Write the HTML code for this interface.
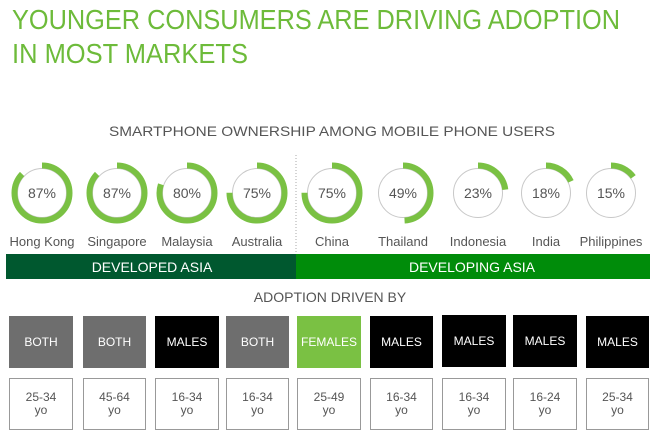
<!DOCTYPE html>
<html><head><meta charset="utf-8"><style>
html,body{margin:0;padding:0;background:#fff}
svg{display:block}
text{font-family:"Liberation Sans",sans-serif}
</style></head><body>
<svg width="660" height="436" viewBox="0 0 660 436" xmlns="http://www.w3.org/2000/svg">
<g fill="#6dbb3a" font-size="28">
<text x="12" y="29" textLength="608" lengthAdjust="spacingAndGlyphs">YOUNGER CONSUMERS ARE DRIVING ADOPTION</text>
<text x="12" y="63" textLength="236" lengthAdjust="spacingAndGlyphs">IN MOST MARKETS</text>
</g>
<text x="332" y="136" font-size="14" fill="#555" text-anchor="middle" textLength="446" lengthAdjust="spacingAndGlyphs">SMARTPHONE OWNERSHIP AMONG MOBILE PHONE USERS</text>
<line x1="296" y1="155" x2="296" y2="280" stroke="#aaa" stroke-dasharray="1,2"/>
<rect x="6" y="254" width="290" height="25" fill="#00582f"/>
<rect x="296" y="254" width="354" height="25" fill="#008c0a"/>
<text x="152" y="272" font-size="14" fill="#fff" text-anchor="middle">DEVELOPED ASIA</text>
<text x="472" y="272" font-size="14" fill="#fff" text-anchor="middle">DEVELOPING ASIA</text>
<text x="330" y="302" font-size="14" fill="#555" text-anchor="middle">ADOPTION DRIVEN BY</text>
</svg>
<script>
(function(){
var ns="http://www.w3.org/2000/svg";
function el(t,a,p,txt){var e=document.createElementNS(ns,t);for(var k in a)e.setAttribute(k,a[k]);if(txt!=null)e.textContent=txt;p.appendChild(e);return e;}
var svg=document.querySelector('svg');
var data=[[42,87,"Hong Kong"],[117,87,"Singapore"],[187,80,"Malaysia"],[257,75,"Australia"],[332,75,"China"],[403,49,"Thailand"],[478,23,"Indonesia"],[546,18,"India"],[611,15,"Philippines"]];
var C=2*Math.PI*27.5;
data.forEach(function(d){
 var cx=d[0],cy=193;
 el('circle',{cx:cx,cy:cy,r:24.5,fill:'#fff',stroke:'#c8c8c8','stroke-width':1},svg);
 el('circle',{cx:cx,cy:cy,r:27.5,fill:'none',stroke:'#7ac143','stroke-width':6,'stroke-dasharray':(C*d[1]/100)+' '+C,transform:'rotate(-90 '+cx+' '+cy+')'},svg);
 el('text',{x:cx,y:cy+5,'font-size':14,fill:'#555','text-anchor':'middle'},svg,d[1]+'%');
 el('text',{x:cx,y:246,'font-size':13,fill:'#555','text-anchor':'middle'},svg,d[2]);
});
var bx=[[9,73],[83,146],[155,219],[226,289],[297,361],[370,433],[442,506],[513,577],[586,649]];
var tops=[["BOTH","#6e6e6e"],["BOTH","#6e6e6e"],["MALES","#000"],["BOTH","#6e6e6e"],["FEMALES","#7ac143"],["MALES","#000"],["MALES","#000"],["MALES","#000"],["MALES","#000"]];
var ages=["25-34","45-64","16-34","16-34","25-49","16-34","16-34","16-24","25-34"];
bx.forEach(function(b,i){
 var w=b[1]-b[0],cx=(b[0]+b[1])/2;
 var y0=(i==6||i==7)?315:316,y1=(i==6||i==7)?367:368;
 el('rect',{x:b[0],y:y0,width:w,height:y1-y0,fill:tops[i][1]},svg);
 el('text',{x:cx,y:(y0+y1)/2+4,'font-size':12,fill:'#fff','text-anchor':'middle'},svg,tops[i][0]);
 el('rect',{x:b[0]+0.5,y:378.5,width:w-1,height:51,fill:'#fff',stroke:'#999','stroke-width':1},svg);
 el('text',{x:cx,y:401,'font-size':12,fill:'#555','text-anchor':'middle'},svg,ages[i]);
 el('text',{x:cx,y:414,'font-size':12,fill:'#555','text-anchor':'middle'},svg,'yo');
});
})();
</script>
</body></html>
